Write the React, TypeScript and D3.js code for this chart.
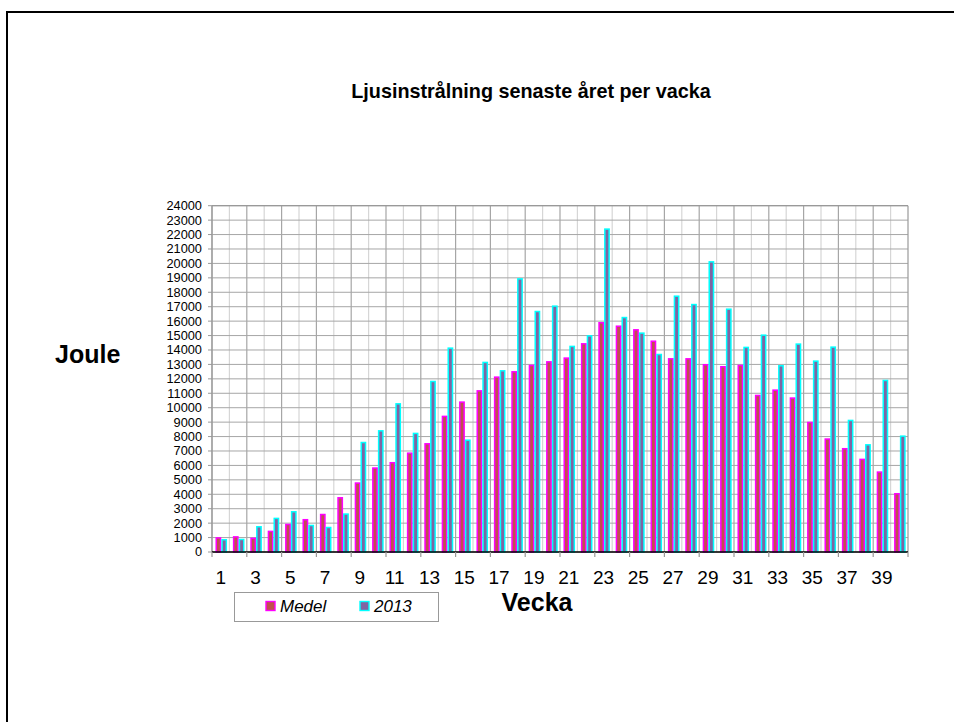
import { scaleBand, scaleLinear } from "d3";

const weeks = [
  1, 2, 3, 4, 5, 6, 7, 8, 9, 10, 11, 12, 13, 14, 15, 16, 17, 18, 19, 20, 21,
  22, 23, 24, 25, 26, 27, 28, 29, 30, 31, 32, 33, 34, 35, 36, 37, 38, 39, 40,
];

const medel = [
  1030, 1100, 1000, 1480, 1960, 2290, 2650, 3810, 4830, 5870, 6240, 6900,
  7550, 9450, 10440, 11220, 12170, 12540, 12980, 13230, 13490, 14480, 15940,
  15700, 15450, 14660, 13440, 13440, 13030, 12890, 12980, 10900, 11270, 10720,
  9030, 7880, 7210, 6470, 5590, 4090,
];

const values2013 = [
  900, 920, 1800, 2380, 2840, 1890, 1750, 2680, 7640, 8450, 10320, 8270,
  11870, 14180, 7800, 13190, 12610, 18980, 16720, 17090, 14300, 15030, 22430,
  16300, 15220, 13740, 17780, 17200, 20160, 16880, 14230, 15080, 12960, 14460,
  13280, 14250, 9170, 7480, 11940, 8080,
];

const yTicks = [
  0, 1000, 2000, 3000, 4000, 5000, 6000, 7000, 8000, 9000, 10000, 11000,
  12000, 13000, 14000, 15000, 16000, 17000, 18000, 19000, 20000, 21000, 22000,
  23000, 24000,
];

const seriesNames = ["Medel", "2013"];

const FONT = "'Liberation Sans', Arial, sans-serif";

export default function App() {
  const plot = { left: 212, right: 908, top: 205.7, bottom: 552 };

  const x = scaleBand<number>()
    .domain(weeks)
    .range([plot.left, plot.right])
    .padding(0);

  const xs = scaleBand<string>()
    .domain(seriesNames)
    .range([0, x.bandwidth()])
    .paddingInner(0)
    .paddingOuter(0.5)
    .align(0.6);

  const y = scaleLinear().domain([0, 24000]).range([plot.bottom, plot.top]);

  const series = [
    { name: "Medel", values: medel, fill: "#c0504d", stroke: "#ff00ff" },
    { name: "2013", values: values2013, fill: "#8064a2", stroke: "#00ffff" },
  ];

  const bw = xs.bandwidth();
  const sw = 1.5;

  // category boundaries, used for the vertical gridlines
  const boundaries = weeks.map((w) => x(w) as number);

  return (
    <svg
      width={954}
      height={722}
      style={{ position: "absolute", left: 0, top: 0, background: "#fff" }}
      fontFamily={FONT}
    >
      {/* outer frame */}
      <rect
        x={7}
        y={12}
        width={960}
        height={730}
        fill="#fff"
        stroke="#000"
        strokeWidth={2}
      />

      <text
        x={531}
        y={98}
        textAnchor="middle"
        fontSize={19.8}
        fontWeight="bold"
      >
        Ljusinstrålning senaste året per vacka
      </text>

      {/* vertical gridlines */}
      {boundaries.map((bx, i) => (
        <line
          key={`v${i}`}
          x1={bx}
          x2={bx}
          y1={plot.top}
          y2={plot.bottom}
          stroke={i % 2 === 0 ? "#a6a6a6" : "#d6d6d6"}
          strokeWidth={1.2}
        />
      ))}

      {/* horizontal gridlines */}
      {yTicks.map((t) => (
        <line
          key={`h${t}`}
          x1={plot.left}
          x2={plot.right}
          y1={y(t)}
          y2={y(t)}
          stroke="#a6a6a6"
          strokeWidth={1}
        />
      ))}

      {/* plot border right/top */}
      <line
        x1={plot.right}
        x2={plot.right}
        y1={plot.top}
        y2={plot.bottom}
        stroke="#999"
        strokeWidth={1.2}
      />
      <line
        x1={plot.left}
        x2={plot.right}
        y1={plot.top}
        y2={plot.top}
        stroke="#999"
        strokeWidth={1.2}
      />

      {/* bars */}
      {series.map((s) =>
        s.values.map((v, i) => {
          const bx = (x(weeks[i]) as number) + (xs(s.name) as number);
          const top = y(v);
          return (
            <rect
              key={`${s.name}-${i}`}
              x={bx + sw / 2}
              y={top + sw / 2}
              width={bw - sw}
              height={Math.max(0, plot.bottom - top - sw / 2)}
              fill={s.fill}
              stroke={s.stroke}
              strokeWidth={sw}
            />
          );
        })
      )}

      {/* y axis */}
      <line
        x1={plot.left}
        x2={plot.left}
        y1={plot.top}
        y2={plot.bottom}
        stroke="#999"
        strokeWidth={1.2}
      />
      {yTicks.map((t) => (
        <g key={`yt${t}`}>
          <line
            x1={plot.left - 4}
            x2={plot.left}
            y1={y(t)}
            y2={y(t)}
            stroke="#999"
          />
          <text
            x={202}
            y={y(t) + 4.4}
            textAnchor="end"
            fontSize={12.8}
            fill="#000"
          >
            {t}
          </text>
        </g>
      ))}

      {/* x axis */}
      <line
        x1={plot.left}
        x2={plot.right}
        y1={plot.bottom}
        y2={plot.bottom}
        stroke="#000"
        strokeWidth={1.5}
      />
      {boundaries
        .filter((_, i) => i % 2 === 0)
        .concat([plot.right])
        .map((bx, i) => (
          <line
            key={`xt${i}`}
            x1={bx}
            x2={bx}
            y1={plot.bottom}
            y2={plot.bottom + 5}
            stroke="#999"
            strokeWidth={1.2}
          />
        ))}
      {weeks
        .filter((w) => w % 2 === 1)
        .map((w) => (
          <text
            key={`xl${w}`}
            x={(x(w) as number) + x.bandwidth() / 2}
            y={584}
            textAnchor="middle"
            fontSize={19}
          >
            {w}
          </text>
        ))}

      {/* axis titles */}
      <text x={55} y={363} fontSize={25} fontWeight="bold">
        Joule
      </text>
      <text
        x={537}
        y={611}
        textAnchor="middle"
        fontSize={25}
        fontWeight="bold"
      >
        Vecka
      </text>

      {/* legend */}
      <rect
        x={234.5}
        y={592.5}
        width={204}
        height={29}
        fill="#fff"
        stroke="#999"
        strokeWidth={1}
      />
      {series.map((s, i) => {
        const lx = i === 0 ? 266 : 360;
        return (
          <g key={`lg${s.name}`}>
            <rect
              x={lx}
              y={601.5}
              width={9}
              height={9}
              fill={s.fill}
              stroke={s.stroke}
              strokeWidth={1.4}
            />
            <text x={lx + 14} y={612} fontSize={17} fontStyle="italic">
              {s.name}
            </text>
          </g>
        );
      })}
    </svg>
  );
}
